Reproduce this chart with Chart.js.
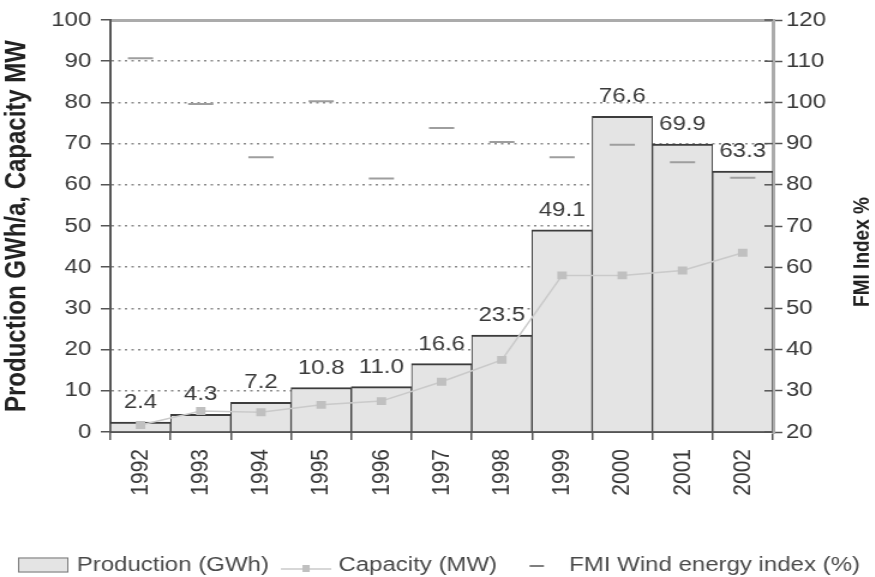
<!DOCTYPE html>
<html>
<head>
<meta charset="utf-8">
<title>Wind power production</title>
<script src="https://cdn.jsdelivr.net/npm/chart.js@4.4.1/dist/chart.umd.min.js"></script>
<style>
  html, body { margin: 0; padding: 0; background: #fff; overflow: hidden; }
  /* the original picture is stretched sideways, so the whole chart is too */
  #wrap { width: 729px; height: 577px; transform: scaleX(1.2); transform-origin: 0 0; }
</style>
</head>
<body>
<div id="wrap"><canvas id="chart" width="729" height="577"></canvas></div>
<script>
// --- data ---
const years = ['1992', '1993', '1994', '1995', '1996', '1997', '1998', '1999', '2000', '2001', '2002'];
const production = [2.4, 4.3, 7.2, 10.8, 11.0, 16.6, 23.5, 49.1, 76.6, 69.9, 63.3];   // GWh
const capacity = [1.7, 5.1, 4.8, 6.6, 7.5, 12.2, 17.5, 38, 38, 39.2, 43.5];           // MW
const fmiIndex = [110.7, 99.6, 86.7, 100.3, 81.5, 93.8, 90.4, 86.7, 89.7, 85.5, 81.7]; // %

const leftRange = [0, 100];
const rightRange = [20, 120];
const tickStep = 10;

const FONT = '"Liberation Sans", Arial, sans-serif';
const TEXT = '#383838';

// numbers above the bars
const barLabels = {
    id: 'barLabels',
    afterDatasetsDraw(chart) {
        const ctx = chart.ctx;
        const meta = chart.getDatasetMeta(0);
        ctx.save();
        ctx.font = '20px ' + FONT;
        ctx.fillStyle = '#3a3a3a';
        ctx.textAlign = 'center';
        ctx.textBaseline = 'alphabetic';
        meta.data.forEach((bar, i) => {
            ctx.fillText(production[i].toFixed(1), bar.x, bar.y - 14);
        });
        ctx.restore();
    }
};

// right axis title reads bottom-to-top like the left one
const rightTitle = {
    id: 'rightTitle',
    afterDraw(chart) {
        const ctx = chart.ctx;
        const s = chart.scales.y1;
        ctx.save();
        ctx.translate(s.right - 10, 252);
        ctx.rotate(-Math.PI / 2);
        ctx.font = 'bold 19px ' + FONT;
        ctx.fillStyle = '#222';
        ctx.textAlign = 'center';
        ctx.textBaseline = 'middle';
        ctx.fillText('FMI Index %', 0, 0);
        ctx.restore();
    }
};

// right axis ticks cross the axis line in the original
const rightTicksInside = {
    id: 'rightTicksInside',
    afterDraw(chart) {
        const ctx = chart.ctx;
        const s = chart.scales.y1;
        ctx.save();
        ctx.strokeStyle = '#555';
        ctx.lineWidth = 1.5;
        s.ticks.forEach(t => {
            const py = s.getPixelForValue(t.value);
            ctx.beginPath();
            ctx.moveTo(s.left - 7, py);
            ctx.lineTo(s.left, py);
            ctx.stroke();
        });
        ctx.restore();
    }
};

// legend row at the bottom, symbols like the original
const bottomLegend = {
    id: 'bottomLegend',
    afterDraw(chart) {
        const ctx = chart.ctx;
        const ds = chart.data.datasets;
        const y = 565;
        let x = 15;
        ctx.save();
        ctx.font = '20px ' + FONT;
        ctx.textBaseline = 'middle';

        // Production box
        ctx.fillStyle = '#e4e4e4';
        ctx.fillRect(x, y - 7.5, 42, 15);
        ctx.strokeStyle = '#777';
        ctx.lineWidth = 1;
        ctx.strokeRect(x + 0.5, y - 7, 41, 14);
        x += 49;
        ctx.fillStyle = '#4a4a4a';
        ctx.fillText(ds[0].label, x, y);
        x += ctx.measureText(ds[0].label).width + 10;

        // Capacity line with marker
        ctx.strokeStyle = ds[1].borderColor;
        ctx.lineWidth = 1.5;
        ctx.beginPath();
        ctx.moveTo(x, y + 4);
        ctx.lineTo(x + 42, y + 4);
        ctx.stroke();
        ctx.fillStyle = ds[1].pointBackgroundColor;
        ctx.fillRect(x + 18, y, 6, 7);
        x += 48;
        ctx.fillStyle = '#4a4a4a';
        ctx.fillText(ds[1].label, x, y);
        x += ctx.measureText(ds[1].label).width + 27;

        // FMI dash
        ctx.strokeStyle = '#555';
        ctx.lineWidth = 1.5;
        ctx.beginPath();
        ctx.moveTo(x, y + 1);
        ctx.lineTo(x + 12, y + 1);
        ctx.stroke();
        x += 33;
        ctx.fillText(ds[2].label, x, y);
        ctx.restore();
    }
};

const tickFont = { family: FONT, size: 20 };

new Chart(document.getElementById('chart'), {
    type: 'bar',
    data: {
        labels: years,
        datasets: [
            {
                label: 'Production (GWh)',
                data: production,
                yAxisID: 'y',
                backgroundColor: '#e4e4e4',
                borderColor: '#3c3c3c',
                borderWidth: { top: 2, left: 1, right: 1, bottom: 0 },
                borderSkipped: false,
                barPercentage: 1,
                categoryPercentage: 1,
                order: 3
            },
            {
                type: 'line',
                label: 'Capacity (MW)',
                data: capacity,
                yAxisID: 'y',
                borderColor: '#cacaca',
                borderWidth: 1.5,
                pointStyle: 'rect',
                pointRadius: 4.5,
                pointBackgroundColor: '#c0c0c0',
                pointBorderColor: '#c0c0c0',
                tension: 0,
                order: 2
            },
            {
                type: 'line',
                label: 'FMI Wind energy index (%)',
                data: fmiIndex,
                yAxisID: 'y1',
                showLine: false,
                pointStyle: 'line',
                pointRadius: 10.5,
                pointBorderWidth: 2,
                pointBorderColor: '#9e9e9e',
                order: 1
            }
        ]
    },
    options: {
        responsive: false,
        animation: false,
        layout: { padding: { top: 20, left: 0, right: 0, bottom: 40 } },
        plugins: {
            legend: { display: false },
            tooltip: { enabled: false }
        },
        scales: {
            x: {
                offset: true,
                grid: { display: true, drawOnChartArea: false, drawTicks: true, tickLength: 8, color: '#555', lineWidth: 1.5, offset: true },
                border: { display: true, color: '#555', width: 2 },
                ticks: { autoSkip: false, maxRotation: 90, minRotation: 90, padding: 9, color: TEXT, font: { family: FONT, size: 21 } },
                afterFit: s => { s.height = 105; }
            },
            y: {
                position: 'left',
                min: leftRange[0],
                max: leftRange[1],
                ticks: { stepSize: tickStep, padding: 8, color: TEXT, font: tickFont },
                grid: {
                    color: c => (c.tick && (c.tick.value === leftRange[0] || c.tick.value === leftRange[1])) ? 'rgba(0,0,0,0)' : '#8a8a8a',
                    lineWidth: 1.5,
                    tickColor: '#555',
                    tickLength: 8
                },
                border: { display: true, color: '#555', width: 2, dash: [2, 3.5] },
                title: { display: true, text: 'Production GWh/a, Capacity MW', color: '#222', padding: 0, font: { family: FONT, size: 24, weight: 'bold' } },
                afterFit: s => { s.width = 92; }
            },
            y1: {
                position: 'right',
                min: rightRange[0],
                max: rightRange[1],
                ticks: { stepSize: tickStep, padding: 3, color: TEXT, font: tickFont },
                grid: {
                    drawOnChartArea: true,
                    color: c => (c.tick && c.tick.value === rightRange[1]) ? '#ababab' : 'rgba(0,0,0,0)',
                    lineWidth: 3,
                    tickColor: '#555',
                    tickWidth: 1.5,
                    tickLength: 8
                },
                border: { display: true, color: '#ababab', width: 3 },
                afterFit: s => { s.width = 85; }
            }
        }
    },
    plugins: [barLabels, rightTicksInside, rightTitle, bottomLegend]
});
</script>
</body>
</html>
